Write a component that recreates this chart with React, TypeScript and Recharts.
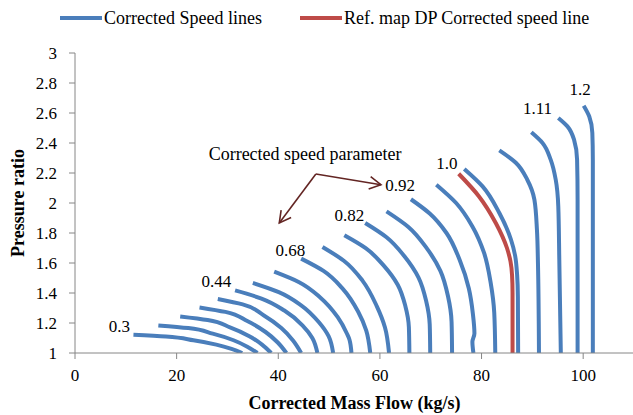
import React from 'react';
import { LineChart, Line, XAxis, YAxis, Legend, ReferenceDot, ReferenceLine, Label } from 'recharts';

const FONT = '"Liberation Serif", "Times New Roman", serif';
const BLUE = '#4A7EBB';
const RED = '#BE4B48';
const AXIS = '#868686';
const ARROW = '#632523';

const xTicks = [0, 20, 40, 60, 80, 100];
const yTicks = [1, 1.2, 1.4, 1.6, 1.8, 2, 2.2, 2.4, 2.6, 2.8, 3];

// Corrected speed lines (mass flow x, pressure ratio y), lowest speed first
const line01 = [{ x: 11.5, y: 1.122 }, { x: 17.9, y: 1.110 }, { x: 23.3, y: 1.085 }, { x: 27.8, y: 1.056 }, { x: 30.8, y: 1.028 }, { x: 32.9, y: 1.0 }];
const line02 = [{ x: 16.4, y: 1.184 }, { x: 22.3, y: 1.166 }, { x: 27.1, y: 1.129 }, { x: 31.2, y: 1.085 }, { x: 33.9, y: 1.042 }, { x: 35.9, y: 1.0 }];
const line03 = [{ x: 20.7, y: 1.244 }, { x: 26.1, y: 1.22 }, { x: 30.5, y: 1.171 }, { x: 34.3, y: 1.112 }, { x: 36.8, y: 1.056 }, { x: 38.6, y: 1.0 }];
const line04 = [{ x: 24.5, y: 1.304 }, { x: 29.6, y: 1.274 }, { x: 33.9, y: 1.213 }, { x: 37.5, y: 1.14 }, { x: 39.9, y: 1.07 }, { x: 41.6, y: 1.0 }];
const line05 = [{ x: 28.1, y: 1.36 }, { x: 33.0, y: 1.324 }, { x: 37.1, y: 1.252 }, { x: 40.6, y: 1.166 }, { x: 42.9, y: 1.083 }, { x: 44.5, y: 1.0 }];
const line06 = [{ x: 31.5, y: 1.417 }, { x: 36.7, y: 1.363 }, { x: 41.2, y: 1.283 }, { x: 44.8, y: 1.183 }, { x: 46.7, y: 1.1 }, { x: 47.7, y: 1.0 }];
const line07 = [{ x: 35.0, y: 1.467 }, { x: 40.1, y: 1.406 }, { x: 44.5, y: 1.318 }, { x: 48.0, y: 1.205 }, { x: 49.9, y: 1.112 }, { x: 50.8, y: 1.0 }];
const line08 = [{ x: 39.2, y: 1.542 }, { x: 44.1, y: 1.472 }, { x: 48.3, y: 1.369 }, { x: 51.7, y: 1.239 }, { x: 53.5, y: 1.13 }, { x: 54.0, y: 1.09 }, { x: 54.4, y: 1.0 }];
const line09 = [{ x: 44.5, y: 1.629 }, { x: 48.9, y: 1.547 }, { x: 52.7, y: 1.428 }, { x: 55.7, y: 1.277 }, { x: 57.3, y: 1.151 }, { x: 58.1, y: 1.0 }];
const line10 = [{ x: 48.7, y: 1.707 }, { x: 52.9, y: 1.615 }, { x: 56.6, y: 1.481 }, { x: 59.4, y: 1.311 }, { x: 61.0, y: 1.17 }, { x: 61.8, y: 1.0 }];
const line11 = [{ x: 53.0, y: 1.785 }, { x: 57.2, y: 1.699 }, { x: 60.8, y: 1.581 }, { x: 63.5, y: 1.455 }, { x: 65.0, y: 1.314 }, { x: 65.7, y: 1.173 }, { x: 65.8, y: 1.0 }];
const line12 = [{ x: 57.1, y: 1.867 }, { x: 61.3, y: 1.772 }, { x: 64.9, y: 1.642 }, { x: 67.6, y: 1.503 }, { x: 69.1, y: 1.347 }, { x: 69.8, y: 1.191 }, { x: 69.9, y: 1.0 }];
const line13 = [{ x: 61.3, y: 1.944 }, { x: 65.6, y: 1.84 }, { x: 69.2, y: 1.699 }, { x: 71.9, y: 1.548 }, { x: 73.4, y: 1.378 }, { x: 74.1, y: 1.208 }, { x: 74.2, y: 1.0 }];
const line14 = [{ x: 66.1, y: 2.025 }, { x: 69.8, y: 1.93 }, { x: 73.1, y: 1.8 }, { x: 75.7, y: 1.62 }, { x: 77.5, y: 1.43 }, { x: 78.3, y: 1.26 }, { x: 78.6, y: 1.13 }, { x: 78.2, y: 1.075 }, { x: 78.4, y: 1.0 }];
const line15 = [{ x: 71.1, y: 2.122 }, { x: 75.0, y: 2.0 }, { x: 78.2, y: 1.844 }, { x: 80.5, y: 1.667 }, { x: 81.8, y: 1.467 }, { x: 82.5, y: 1.267 }, { x: 82.7, y: 1.0 }];
const line16 = [{ x: 76.6, y: 2.227 }, { x: 80.2, y: 2.111 }, { x: 83.5, y: 1.933 }, { x: 85.8, y: 1.755 }, { x: 86.6, y: 1.65 }, { x: 87.0, y: 1.52 }, { x: 87.15, y: 1.377 }, { x: 87.2, y: 1.0 }];
const line17 = [{ x: 83.5, y: 2.351 }, { x: 86.8, y: 2.267 }, { x: 89.0, y: 2.155 }, { x: 90.4, y: 2.022 }, { x: 90.9, y: 1.822 }, { x: 91.1, y: 1.6 }, { x: 91.3, y: 1.0 }];
const line18 = [{ x: 89.8, y: 2.471 }, { x: 92.0, y: 2.4 }, { x: 93.6, y: 2.289 }, { x: 94.6, y: 2.155 }, { x: 95.1, y: 1.977 }, { x: 95.3, y: 1.622 }, { x: 95.6, y: 1.0 }];
const line19 = [{ x: 95.1, y: 2.567 }, { x: 96.9, y: 2.511 }, { x: 98.2, y: 2.422 }, { x: 98.8, y: 2.289 }, { x: 98.9, y: 2.022 }, { x: 98.9, y: 1.0 }];
const line20 = [{ x: 100.1, y: 2.649 }, { x: 101.2, y: 2.577 }, { x: 101.8, y: 2.467 }, { x: 101.9, y: 2.289 }, { x: 101.9, y: 1.0 }];

// Reference map design-point corrected speed line
const refLine = [{ x: 75.5, y: 2.195 }, { x: 79.5, y: 2.044 }, { x: 82.8, y: 1.867 }, { x: 85.0, y: 1.7 }, { x: 85.7, y: 1.61 }, { x: 86.0, y: 1.52 }, { x: 86.1, y: 1.4 }, { x: 86.1, y: 1.0 }];

const blueLines = [line01, line02, line03, line04, line05, line06, line07, line08, line09, line10,
  line11, line12, line13, line14, line15, line16, line17, line18, line19, line20];

// Speed parameter annotations
const speedLabels = [
  { text: '0.3', x: 8.75, y: 1.175 },
  { text: '0.44', x: 27.8, y: 1.477 },
  { text: '0.68', x: 42.4, y: 1.682 },
  { text: '0.82', x: 54.0, y: 1.915 },
  { text: '0.92', x: 64.0, y: 2.117 },
  { text: '1.0', x: 73.2, y: 2.261 },
  { text: '1.11', x: 91.0, y: 2.633 },
  { text: '1.2', x: 99.4, y: 2.759 },
];
const noteText = 'Corrected speed parameter';
const notePos = { x: 26.3, y: 2.285 };
const arrowStart = { x: 47.4, y: 2.193 };
const arrowEnds = [{ x: 40.2, y: 1.867 }, { x: 60.2, y: 2.122 }];

const legendItems = [
  { label: 'Corrected Speed lines', color: BLUE },
  { label: 'Ref. map DP Corrected speed line', color: RED },
];

const arrowShape = (props: any) => {
  const { x1, y1, x2, y2 } = props;
  const ang = Math.atan2(y2 - y1, x2 - x1);
  const len = 13;
  const spread = 0.5;
  const ax = x2 - len * Math.cos(ang - spread);
  const ay = y2 - len * Math.sin(ang - spread);
  const bx = x2 - len * Math.cos(ang + spread);
  const by = y2 - len * Math.sin(ang + spread);
  return (
    <g>
      <line x1={x1} y1={y1} x2={x2} y2={y2} stroke={ARROW} strokeWidth={1.6} />
      <polyline points={`${ax},${ay} ${x2},${y2} ${bx},${by}`} fill="none" stroke={ARROW} strokeWidth={1.6} />
    </g>
  );
};

const textShape = (text: string, anchor: string, baseline: string, size: number) => (props: any) => (
  <text x={props.cx} y={props.cy} textAnchor={anchor} dominantBaseline={baseline}
    fontFamily={FONT} fontSize={size} fill="#000">{text}</text>
);

const LegendContent = () => (
  <div style={{ display: 'flex', alignItems: 'center', paddingLeft: 60, height: 36, fontFamily: FONT, fontSize: 18, color: '#000' }}>
    {legendItems.map((it, i) => (
      <div key={i} style={{ display: 'flex', alignItems: 'center', marginRight: 38 }}>
        <span style={{ display: 'inline-block', width: 42, height: 4, background: it.color, marginRight: 2 }} />
        <span style={{ lineHeight: '20px' }}>{it.label}</span>
      </div>
    ))}
  </div>
);

const YTitle = (props: any) => {
  const vb = props.viewBox;
  const cx = vb.x + 18;
  const cy = vb.y + vb.height / 2;
  return (
    <text x={cx} y={cy} transform={`rotate(-90 ${cx} ${cy})`} textAnchor="middle" dominantBaseline="central"
      fontFamily={FONT} fontSize={18} fontWeight="bold" fill="#000">Pressure ratio</text>
  );
};

export default function App() {
  return (
    <div style={{ position: 'absolute', left: 0, top: 0, width: 633, height: 415, overflow: 'hidden', background: '#fff' }}>
      <LineChart width={634} height={415} margin={{ top: 53, right: 0, bottom: 0, left: 0 }}>
        <XAxis dataKey="x" type="number" domain={[0, 110]} ticks={xTicks} height={62}
          axisLine={{ stroke: AXIS }} tickLine={{ stroke: AXIS }} tickSize={6} tickMargin={10}
          tick={{ fill: '#000', fontSize: 17, fontFamily: FONT }} allowDataOverflow>
          <Label value="Corrected Mass Flow (kg/s)" position="insideBottom" offset={6}
            style={{ fontFamily: FONT, fontSize: 18, fontWeight: 'bold', fill: '#000' }} />
        </XAxis>
        <YAxis type="number" domain={[1, 3]} ticks={yTicks} width={75}
          axisLine={{ stroke: AXIS }} tickLine={{ stroke: AXIS }} tickSize={6} tickMargin={12}
          tick={{ fill: '#000', fontSize: 17, fontFamily: FONT }} allowDataOverflow>
          <Label content={YTitle} />
        </YAxis>
        <Legend verticalAlign="middle" align="center" layout="horizontal"
          wrapperStyle={{ top: 0, left: 0, width: 633, height: 36 }} content={LegendContent} />
        {blueLines.map((d, i) => (
          <Line key={`b${i}`} data={d} dataKey="y" type="monotoneY" stroke={BLUE} strokeWidth={4}
            dot={false} activeDot={false} isAnimationActive={false}
            legendType={i === 0 ? 'plainline' : 'none'} name={i === 0 ? legendItems[0].label : undefined} />
        ))}
        <Line data={refLine} dataKey="y" type="monotoneY" stroke={RED} strokeWidth={4}
          dot={false} activeDot={false} isAnimationActive={false} legendType="plainline" name={legendItems[1].label} />
        {arrowEnds.map((e, i) => (
          <ReferenceLine key={`a${i}`} segment={[arrowStart, e]} shape={arrowShape} />
        ))}
        <ReferenceDot x={notePos.x} y={notePos.y} r={1} shape={textShape(noteText, 'start', 'alphabetic', 18)} />
        {speedLabels.map((l, i) => (
          <ReferenceDot key={`l${i}`} x={l.x} y={l.y} r={1} shape={textShape(l.text, 'middle', 'central', 17)} />
        ))}
      </LineChart>
    </div>
  );
}
